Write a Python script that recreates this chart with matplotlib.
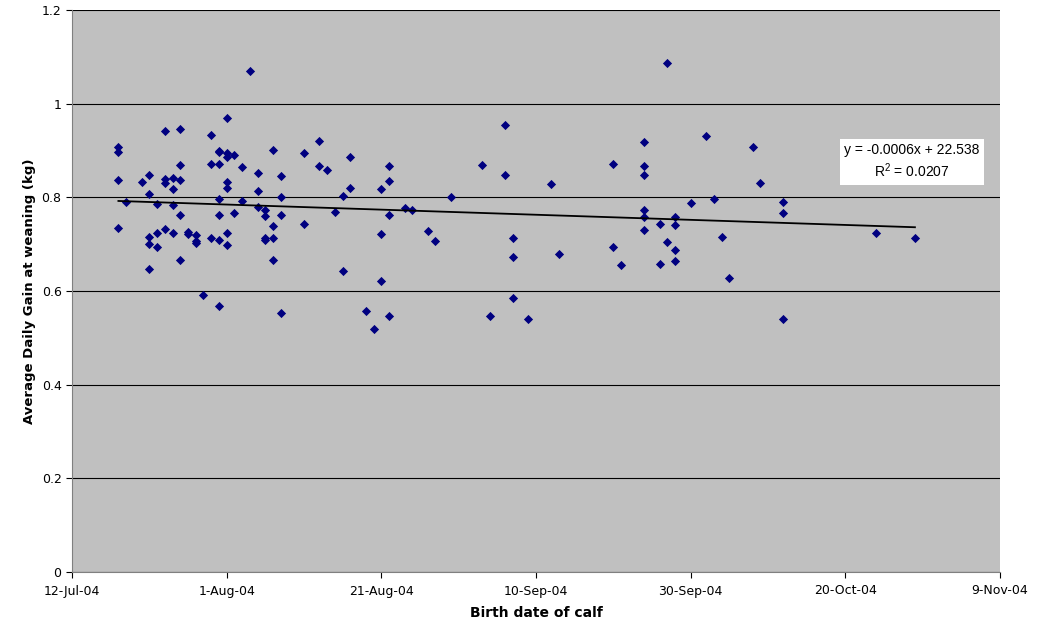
import matplotlib
matplotlib.use("Agg")
import matplotlib.pyplot as plt
import matplotlib.dates as mdates
import numpy as np
import pandas as pd

# birth dates (grouped by day) and average daily gain at weaning (kg)
birth_dates = (
    ["2004-07-18"] * 4 + ["2004-07-19"] + ["2004-07-21"] + ["2004-07-22"] * 5
    + ["2004-07-23"] * 3 + ["2004-07-24"] * 4 + ["2004-07-25"] * 4
    + ["2004-07-26"] * 5 + ["2004-07-27"] * 2 + ["2004-07-28"] * 3
    + ["2004-07-29"] + ["2004-07-30"] * 3 + ["2004-07-31"] * 7
    + ["2004-08-01"] * 7 + ["2004-08-02"] * 2 + ["2004-08-03"] * 2
    + ["2004-08-04"] + ["2004-08-05"] * 3 + ["2004-08-06"] * 4
    + ["2004-08-07"] * 4 + ["2004-08-08"] * 4 + ["2004-08-11"] * 2
    + ["2004-08-13"] * 2 + ["2004-08-14"] + ["2004-08-15"] + ["2004-08-16"] * 2
    + ["2004-08-17"] * 2 + ["2004-08-19"] + ["2004-08-20"] + ["2004-08-21"] * 3
    + ["2004-08-22"] * 4 + ["2004-08-24"] + ["2004-08-25"] + ["2004-08-27"]
    + ["2004-08-28"] + ["2004-08-30"]
    + ["2004-09-03"] + ["2004-09-04"] + ["2004-09-06"] * 2 + ["2004-09-07"] * 3
    + ["2004-09-09"] + ["2004-09-12"] + ["2004-09-13"] + ["2004-09-20"] * 2
    + ["2004-09-21"] + ["2004-09-24"] * 6 + ["2004-09-26"] * 2
    + ["2004-09-27"] * 2 + ["2004-09-28"] * 4 + ["2004-09-30"] + ["2004-10-02"]
    + ["2004-10-03"] + ["2004-10-04"] + ["2004-10-05"] + ["2004-10-08"]
    + ["2004-10-09"] + ["2004-10-12"] * 3 + ["2004-10-24"] + ["2004-10-29"]
)
adg = [
    0.908, 0.897, 0.837, 0.735, 0.789, 0.832,
    0.847, 0.808, 0.716, 0.700, 0.647,
    0.786, 0.723, 0.693,
    0.942, 0.839, 0.830, 0.733,
    0.842, 0.817, 0.784, 0.724,
    0.946, 0.869, 0.836, 0.763, 0.666,
    0.725, 0.722,
    0.720, 0.707, 0.703,
    0.592,
    0.933, 0.871, 0.714,
    0.900, 0.896, 0.871, 0.796, 0.763, 0.709, 0.567,
    0.970, 0.895, 0.887, 0.833, 0.820, 0.724, 0.699,
    0.890, 0.766,
    0.865, 0.793,
    1.070,
    0.851, 0.813, 0.780,
    0.774, 0.761, 0.713, 0.709,
    0.901, 0.739, 0.713, 0.666,
    0.845, 0.801, 0.763, 0.552,
    0.895, 0.743,
    0.920, 0.867,
    0.858, 0.769,
    0.803, 0.643,
    0.887, 0.820,
    0.558, 0.519,
    0.817, 0.722, 0.621,
    0.867, 0.834, 0.762, 0.547,
    0.778, 0.772, 0.728, 0.707, 0.800,
    0.868, 0.547, 0.955, 0.847,
    0.713, 0.673, 0.584,
    0.541, 0.828, 0.678,
    0.872, 0.693, 0.656,
    0.918, 0.866, 0.848, 0.774, 0.757, 0.730,
    0.744, 0.657,
    1.086, 0.705,
    0.757, 0.740, 0.687, 0.664,
    0.788, 0.932, 0.796, 0.715, 0.628, 0.907, 0.830,
    0.790, 0.767, 0.540,
    0.724, 0.714,
]

dates = pd.to_datetime(birth_dates)
xnum = mdates.date2num(dates)
y = np.array(adg)

fig = plt.figure(figsize=(10.37, 6.25), dpi=100, facecolor="white")
ax = fig.add_axes([72 / 1037, 53 / 625, 928 / 1037, 562 / 625])
ax.set_facecolor("#C0C0C0")

ax.scatter(xnum, y, marker="D", s=22, color="#000080", zorder=3, linewidths=0)

slope, intercept = np.polyfit(xnum, y, 1)
xs = np.array([xnum.min(), xnum.max()])
ax.plot(xs, slope * xs + intercept, color="black", lw=1.3, zorder=4)

start = mdates.date2num(pd.Timestamp("2004-07-12"))
ticks = [start + 20 * i for i in range(7)]
ax.set_xlim(ticks[0], ticks[-1])
ax.set_xticks(ticks)
ax.set_xticklabels([mdates.num2date(t).strftime("%-d-%b-%y") for t in ticks])
ax.set_ylim(0, 1.2)
ax.set_yticks(np.arange(0, 1.21, 0.2))
ax.set_yticklabels(["0", "0.2", "0.4", "0.6", "0.8", "1", "1.2"])
ax.grid(axis="y", color="black", lw=0.8)
ax.set_axisbelow(True)
for side in ["top", "right"]:
    ax.spines[side].set_visible(False)
ax.spines["left"].set_color("#808080")
ax.spines["bottom"].set_color("#808080")
ax.tick_params(labelsize=9, length=4, direction="out")
ax.tick_params(axis="x", pad=5)

ax.set_xlabel("Birth date of calf", fontsize=10, fontweight="bold", labelpad=6)
ax.set_ylabel("Average Daily Gain at weaning (kg)", fontsize=9.5, fontweight="bold")

ax.text(0.905, 0.73, "y = -0.0006x + 22.538\n$\\mathregular{R^2}$ = 0.0207",
        transform=ax.transAxes, ha="center", va="center", fontsize=10,
        linespacing=1.3, family="Liberation Sans",
        bbox=dict(facecolor="white", edgecolor="none", pad=3), zorder=5)

fig.savefig("out.png", dpi=100)
